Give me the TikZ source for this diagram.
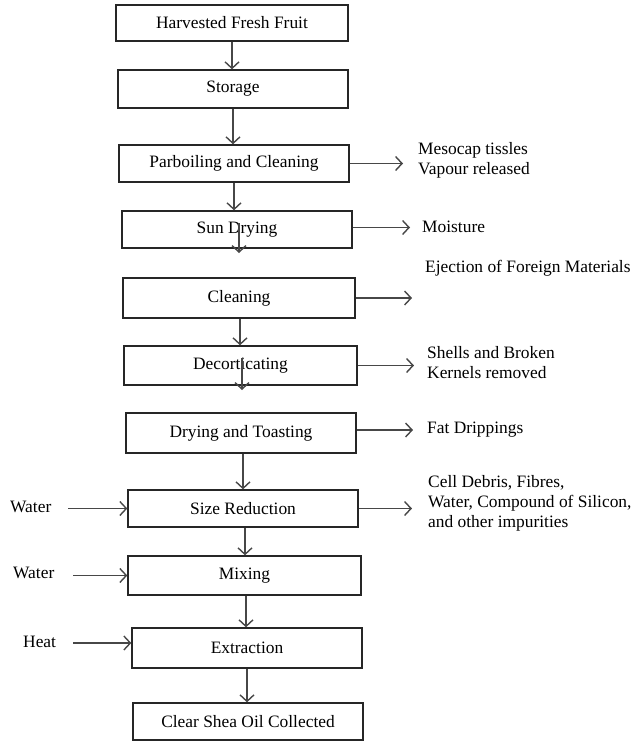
\documentclass[tikz,border=0pt]{standalone}
\usepackage{fontspec}
\setmainfont{Liberation Serif}
\usetikzlibrary{arrows.meta}
\begin{document}
\begin{tikzpicture}[x=1pt,y=-1pt,
  box/.style={draw=black!85,line width=1.4pt,minimum width=230pt,minimum height=37pt,inner sep=0pt,font=\fontsize{17.4}{20}\selectfont},
  arr/.style={draw=black!72,line width=1.4pt,-{Straight Barb[length=6.5pt,width=14pt,line width=1.4pt]}},
  lbl/.style={font=\fontsize{17.4}{20}\selectfont,inner sep=0pt,anchor=west,align=left}]
\fill[white] (0,0) rectangle (641,742);
\useasboundingbox (0,0) rectangle (641,742);
% main boxes
\node[box,minimum width=232pt,minimum height=36pt] (b1) at (232,23) {Harvested Fresh Fruit};
\node[box,minimum height=38pt] (b2) at (233,89) {Storage};
\node[box] (b3) at (234,163.5) {Parboiling and Cleaning};
\node[box] (b4) at (237,229.5) {Sun Drying};
\node[box,minimum width=232pt,minimum height=40pt] (b5) at (239,298) {Cleaning};
\node[box,minimum width=233pt,minimum height=39pt] (b6) at (240.5,365.5) {Decorticating};
\node[box,minimum height=40pt] (b7) at (241,433) {Drying and Toasting};
\node[box] (b8) at (243,508.5) {Size Reduction};
\node[box,minimum width=233pt,minimum height=39pt] (b9) at (244.5,575.5) {Mixing};
\node[box,minimum height=40pt] (b10) at (247,648) {Extraction};
\node[box] (b11) at (248,721.5) {Clear Shea Oil Collected};
% vertical arrows
\draw[arr] (b1.south) -- (b1.south |- b2.north);
\draw[arr] (b2.south) -- (b2.south |- b3.north);
\draw[arr] (b3.south) -- (b3.south |- b4.north);
\coordinate (s1) at (239,223);
\coordinate (s2) at (239,253);
\draw[arr] (s1) -- (s2);
\draw[arr] ([xshift=1pt]b5.south) -- ([xshift=1pt]b5.south |- b6.north);
\coordinate (d1) at (242,358);
\coordinate (d2) at (242,390);
\draw[arr] (d1) -- (d2);
\draw[arr] ([xshift=2pt]b7.south) -- ([xshift=2pt]b7.south |- b8.north);
\draw[arr] ([xshift=2pt]b8.south) -- ([xshift=2pt]b8.south |- b9.north);
\draw[arr] ([xshift=1.5pt]b9.south) -- ([xshift=1.5pt]b9.south |- b10.north);
\draw[arr] (b10.south) -- (b10.south |- b11.north);
% outputs on the right
\coordinate (r3) at (403,163.5);
\coordinate (r4) at (410,227);
\coordinate (r5) at (412,297);
\coordinate (r6) at (414,365.5);
\coordinate (r7) at (413,430);
\coordinate (r8) at (412,508.5);
\draw[arr] (b3.east) -- (b3.east -| r3);
\draw[arr] ([yshift=2pt]b4.east) -- ([yshift=2pt]b4.east -| r4);
\draw[arr] (b5.east) -- (b5.east -| r5);
\draw[arr] (b6.east) -- (b6.east -| r6);
\draw[arr] ([yshift=3pt]b7.east) -- ([yshift=3pt]b7.east -| r7);
\draw[arr] (b8.east) -- (b8.east -| r8);
\node[lbl] (t3) at (418,160) {Mesocap tissles\\Vapour released};
\node[lbl] (t4) at (422,227) {Moisture};
\node[lbl] (t5) at (425,268) {Ejection of Foreign Materials};
\node[lbl] (t6) at (427,362.5) {Shells and Broken\\Kernels removed};
\node[lbl] (t7) at (427,430) {Fat Drippings};
\node[lbl] (t8) at (428,503) {Cell Debris, Fibres,\\Water, Compound of Silicon,\\and other impurities};
% inputs on the left
\node[lbl] (w1) at (10,507) {Water};
\node[lbl] (w2) at (13,573) {Water};
\node[lbl] (h1) at (23,642) {Heat};
\coordinate (l8) at (68,508.5);
\coordinate (l9) at (73,575.5);
\coordinate (l10) at (73,648);
\draw[arr] (l8) -- (l8 -| b8.west);
\draw[arr] (l9) -- (l9 -| b9.west);
\draw[arr] ([yshift=5pt]l10) -- ([yshift=5pt]l10 -| b10.west);
\end{tikzpicture}
\end{document}
